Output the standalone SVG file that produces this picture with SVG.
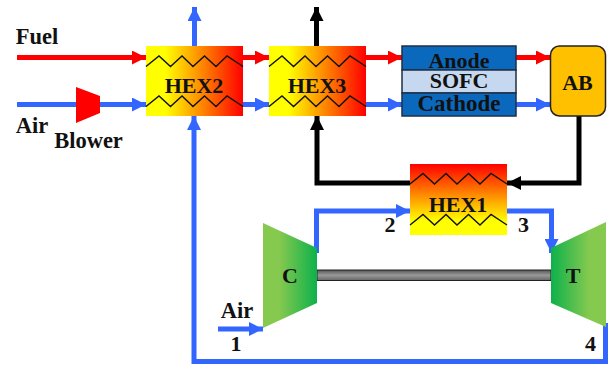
<svg xmlns="http://www.w3.org/2000/svg" width="609" height="365" viewBox="0 0 609 365">
<style>
text{font-family:"Liberation Serif","Times New Roman",serif;font-weight:bold;fill:#111;text-anchor:middle}
.l{font-size:22.5px}.n{font-size:22px}.h{font-size:22px}.s{font-size:23px}
.c{fill:none;stroke-width:5}
.b{stroke:#3366ff}.r{stroke:#ff0000}.k{stroke:#000}
.z{fill:none;stroke:#111;stroke-width:1.4}
</style>
<defs>
<linearGradient id="gh" x1="0" y1="0" x2="1" y2="0"><stop offset="0.2" stop-color="#ffff00"/><stop offset="1" stop-color="#ff0000"/></linearGradient>
<linearGradient id="gv" x1="0" y1="1" x2="0" y2="0"><stop offset="0.2" stop-color="#ffff00"/><stop offset="1" stop-color="#ff0000"/></linearGradient>
<linearGradient id="gc" x1="0" y1="0" x2="1" y2="0"><stop offset="0.3" stop-color="#86c94f"/><stop offset="1" stop-color="#0db14b"/></linearGradient>
<linearGradient id="gt" x1="1" y1="0" x2="0" y2="0"><stop offset="0.3" stop-color="#86c94f"/><stop offset="1" stop-color="#0db14b"/></linearGradient>
<linearGradient id="gs" x1="0" y1="0" x2="0" y2="1"><stop offset="0" stop-color="#555"/><stop offset="0.5" stop-color="#999"/><stop offset="1" stop-color="#666"/></linearGradient>
<marker id="ab" markerUnits="userSpaceOnUse" markerWidth="14" markerHeight="14" refX="14" refY="7" orient="auto"><path d="M0 0L14 7L0 14Z" fill="#3366ff"/></marker>
<marker id="ar" markerUnits="userSpaceOnUse" markerWidth="14" markerHeight="14" refX="14" refY="7" orient="auto"><path d="M0 0L14 7L0 14Z" fill="#ff0000"/></marker>
<marker id="ak" markerUnits="userSpaceOnUse" markerWidth="14" markerHeight="14" refX="14" refY="7" orient="auto"><path d="M0 0L14 7L0 14Z" fill="#000"/></marker>
<path id="zig" d="M0 10.500L13 0L24.500 10.500L36 0L47 10.500L58.500 0L70 10.500L81 0L97 10.500"/>
</defs>
<g id="connectors">
<path class="c r" d="M17 57.500H146" marker-end="url(#ar)"/>
<path class="c b" d="M17 104.500H146" marker-end="url(#ab)"/>
<path class="c b" d="M194.500 46V7" marker-end="url(#ab)"/>
<path class="c r" d="M243 57.500H269" marker-end="url(#ar)"/>
<path class="c b" d="M243 104.500H269" marker-end="url(#ab)"/>
<path class="c k" d="M316.500 46V7" marker-end="url(#ak)"/>
<path class="c r" d="M366 57.500H402" marker-end="url(#ar)"/>
<path class="c b" d="M366 104.500H402" marker-end="url(#ab)"/>
<path class="c r" d="M516 57.500H550" marker-end="url(#ar)"/>
<path class="c b" d="M516 104.500H550" marker-end="url(#ab)"/>
<path class="c k" d="M579 116V183H507" marker-end="url(#ak)"/>
<path class="c k" d="M410 183H317V116" marker-end="url(#ak)"/>
<path class="c b" d="M316.500 253V211H410" marker-end="url(#ab)"/>
<path class="c b" d="M507 211H551.500V253" marker-end="url(#ab)"/>
<path class="c b" d="M218 329H263" marker-end="url(#ab)"/>
<path class="c b" d="M605.500 323V361.500H194V116" marker-end="url(#ab)"/>
</g>
<g id="blower"><path d="M76 87L100 96V113L76 123Z" fill="#ff0000"/><text class="l" x="88.500" y="147.500">Blower</text></g>
<g id="hex2"><rect x="146" y="46" width="97" height="70" fill="url(#gh)"/><use href="#zig" class="z" x="146" y="56"/><use href="#zig" class="z" x="146" y="96"/><text class="h" x="194" y="93">HEX2</text></g>
<g id="hex3"><rect x="269" y="46" width="97" height="70" fill="url(#gh)"/><use href="#zig" class="z" x="269" y="56"/><use href="#zig" class="z" x="269" y="96"/><text class="h" x="317" y="93">HEX3</text></g>
<g id="sofc" stroke="#1f2f46" stroke-width="1.500"><rect x="402" y="46" width="114" height="24" fill="#0b69bd"/><rect x="402" y="70" width="114" height="23" fill="#c5d8ef"/><rect x="402" y="93" width="114" height="23" fill="#0b69bd"/>
<g stroke="none"><text class="h" x="459" y="67.500">Anode</text><text class="h" x="459" y="88">SOFC</text><text class="s" x="459" y="111">Cathode</text></g></g>
<g id="ab-node"><rect x="550.500" y="46" width="55" height="70" rx="9" fill="#ffc000" stroke="#222" stroke-width="1.500"/><text class="h" x="577.500" y="89.500">AB</text></g>
<g id="hex1"><rect x="410" y="164" width="97" height="71" fill="url(#gv)"/><use href="#zig" class="z" x="410" y="173.500"/><use href="#zig" class="z" x="410" y="214.500"/><text class="h" x="458" y="211.500">HEX1</text></g>
<g id="shaft"><rect x="317" y="270" width="234" height="10.500" fill="url(#gs)" stroke="#222" stroke-width="1"/></g>
<g id="compressor"><path d="M263 223L317 248V303L263 328Z" fill="url(#gc)"/><text class="h" x="290" y="283">C</text></g>
<g id="turbine"><path d="M606 222L551 248V303L606 327Z" fill="url(#gt)"/><text class="h" x="573" y="283">T</text></g>
<g id="labels">
<text class="l" x="37" y="44">Fuel</text>
<text class="l" x="32" y="133">Air</text>
<text class="l" x="237" y="318">Air</text>
<text class="n" x="236" y="350.500">1</text>
<text class="n" x="390" y="231.500">2</text>
<text class="n" x="523.500" y="231.500">3</text>
<text class="n" x="590.500" y="350.500">4</text>
</g>
</svg>
